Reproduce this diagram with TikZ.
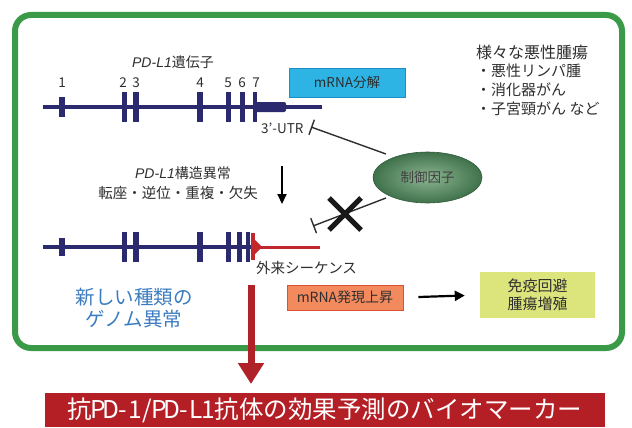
\documentclass[tikz,border=0pt]{standalone}
\usepackage{fontspec}
\setmainfont{Noto Sans CJK JP}
\newfontfamily\itf{Liberation Sans}
\usetikzlibrary{arrows.meta,shapes.geometric}
\definecolor{frameG}{HTML}{3A9A48}
\definecolor{navy}{HTML}{2B2A6E}
\definecolor{genRed}{HTML}{C2272D}
\definecolor{txt}{HTML}{2E2E2E}
\definecolor{cyanF}{HTML}{2DB4E4}
\definecolor{cyanD}{HTML}{1E8FC2}
\definecolor{oraF}{HTML}{F38A5E}
\definecolor{oraD}{HTML}{DD5030}
\definecolor{limeF}{HTML}{DCE47C}
\definecolor{blueT}{HTML}{3B7CC0}
\definecolor{bannerR}{HTML}{B41F26}
\definecolor{ellIn}{HTML}{8DB592}
\definecolor{ellOut}{HTML}{3F724B}
\newcommand\fsz[1]{\fontsize{#1}{#1}\selectfont}
\newcommand\hw[1]{\makebox[0.5em]{#1}}
\newcommand\pdl{{\itf\itshape PD-L1}}
\begin{document}
\begin{tikzpicture}[x=1pt,y=-1pt,
  every node/.style={text=txt, inner sep=0pt},
  gene/.style={draw=navy, line width=4.5pt},
  exon/.style={fill=navy},
  num/.style={font=\fsz{13.5}},
  lbl/.style={font=\fsz{14.5}},
  inhib/.style={draw=txt, line width=1.4pt, -{Bar[width=16pt]}},
  blkarrow/.style={draw=black, line width=2pt, -{Triangle[length=10pt,width=9pt]}}
]
\useasboundingbox (0,0) rectangle (632,428);
% frame
\draw[draw=frameG, line width=6pt, rounded corners=16pt] (15,15) rectangle (622,348);

% gene 1
\draw[gene] (43,107) -- (322,107);
\fill[exon] (59,97) rectangle (65,117);
\fill[exon] (122,92) rectangle (127,122);
\fill[exon] (133,92) rectangle (139,122);
\fill[exon] (197,92) rectangle (203,122);
\fill[exon] (226,92) rectangle (231,122);
\fill[exon] (240,92) rectangle (245,122);
\fill[exon] (253,92) rectangle (257,122);
\fill[exon, rounded corners=2pt] (255,102) rectangle (286,112);
\node[num] (n1) at (62,83) {1};
\node[num] (n2) at (123,83) {2};
\node[num] (n3) at (136,83) {3};
\node[num] (n4) at (200,83) {4};
\node[num] (n5) at (228,83) {5};
\node[num] (n6) at (242,83) {6};
\node[num] (n7) at (256,83) {7};
\node[font=\fsz{14}] (gtitle) at (173,62) {\pdl 遺伝子};
\node[fill=cyanF, draw=cyanD, line width=0.6pt, minimum width=116pt, minimum height=29pt, font=\fsz{13.5}] (deg) at (347,82.5) {mRNA分解};
\node[anchor=west, font=\fsz{13.5}] (utr) at (261,128) {3\char"0027-UTR};

% regulator
\node[ellipse, minimum width=109pt, minimum height=51pt, draw=ellOut!80!black, line width=0.6pt, inner color=ellIn, outer color=ellOut, font=\fsz{13.5}, text=black!75] (reg) at (427.5,177.5) {制御因子};
\coordinate (s1) at (386,154);
\coordinate (t1) at (311,127);
\draw[inhib] (s1) -- (t1);
\coordinate (s2) at (386,198);
\coordinate (t2) at (313,226);
\draw[inhib] (s2) -- (t2);
% X mark
\coordinate (xm) at (345,214);
\draw[line width=5pt, draw=black!90] ([xshift=-16pt,yshift=16pt]xm) -- ([xshift=16pt,yshift=-16pt]xm);
\draw[line width=5pt, draw=black!90] ([xshift=-16pt,yshift=-16pt]xm) -- ([xshift=16pt,yshift=16pt]xm);

% structural abnormality
\node[font=\fsz{14}] (sv1) at (183,173) {\pdl 構造異常};
\node[lbl] (sv2) at (178,193) {転座・逆位・重複・欠失};
\coordinate (d1) at (282,166);
\coordinate (d2) at (282,204);
\draw[blkarrow] (d1) -- (d2);

% right list
\node[anchor=west, font=\fsz{16}] (ttl) at (476,52) {様々な悪性腫瘍};
\node[anchor=west, font=\fsz{15}] (b1) at (476,71) {・悪性リンパ腫};
\node[anchor=west, font=\fsz{15}] (b2) at (476,90) {・消化器がん};
\node[anchor=west, font=\fsz{15}] (b3) at (476,109) {・子宮頸がん など};

% gene 2
\draw[gene] (43,247) -- (253,247);
\fill[exon] (59,238) rectangle (65,256);
\fill[exon] (122,232) rectangle (127,262);
\fill[exon] (133,232) rectangle (139,262);
\fill[exon] (197,232) rectangle (203,262);
\fill[exon] (226,232) rectangle (231,262);
\fill[exon] (237,232) rectangle (242,262);
\fill[exon] (246,232) rectangle (250,262);
\draw[draw=genRed, line width=3pt] (253,247) -- (320,247);
\fill[genRed] (251,233) rectangle (255,260);
\fill[genRed] (255,240) -- (262,247) -- (255,254) -- cycle;
\node[anchor=west, lbl] (exo) at (256,268) {外来シーケンス};

% new genome abnormality
\node[align=center, text=blueT, font=\fontsize{19.5}{22}\selectfont] (newg) at (134,308) {新しい種類の\\ゲノム異常};

% expression up
\node[fill=oraF, draw=oraD, line width=0.8pt, minimum width=116pt, minimum height=25pt, font=\fsz{14}] (up) at (345,297.5) {mRNA発現上昇};
\node[fill=limeF, minimum width=115pt, minimum height=46pt, align=center, font=\fontsize{15}{18}\selectfont] (imm) at (537.5,295) {免疫回避\\腫瘍増殖};
\draw[draw=black, line width=2.2pt, -{Triangle[length=10pt,width=10pt]}, shorten <=15pt, shorten >=15pt] (up.east) -- (imm.west);

% banner
\node[fill=bannerR, minimum width=560pt, minimum height=34pt, text=white, font=\fsz{24.5}] (banner) at (325,410) {抗\hw{P}\hw{D}\hw{-}\hw{1}\hw{/}\hw{P}\hw{D}\hw{-}\hw{L}\hw{1}抗体の効果予測のバイオマーカー};
\coordinate (r1) at (251,285);
\coordinate (r2) at (251,384);
\draw[draw=genRed!90!black, line width=7pt, -{Triangle[length=21pt,width=25pt]}] (r1) -- (r2);
\end{tikzpicture}
\end{document}
